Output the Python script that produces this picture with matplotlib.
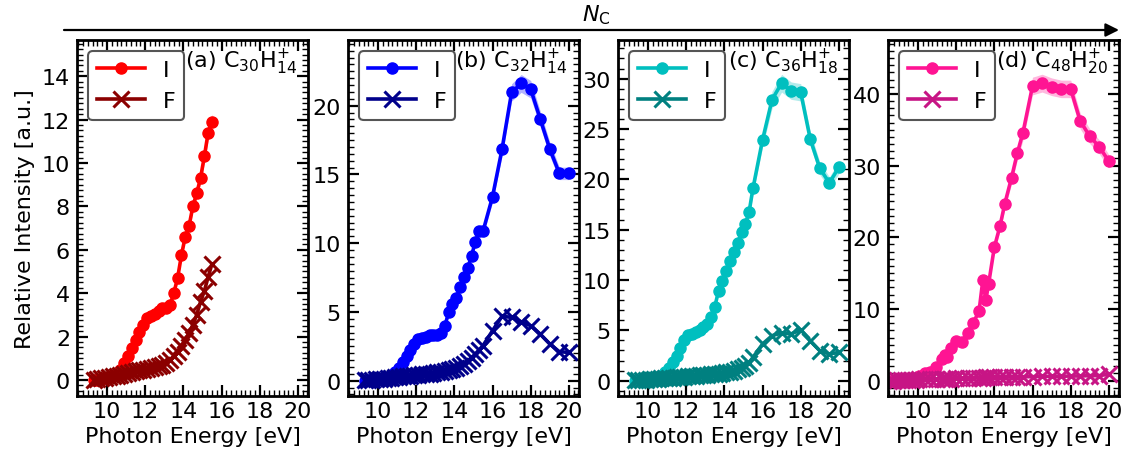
import numpy as np
import matplotlib.pyplot as plt
from matplotlib.ticker import MultipleLocator
plt.rcParams.update({'font.size': 16})

# photon energy grids [eV]
E_low = [9.3, 9.5, 9.7, 9.9, 10.1, 10.3, 10.5, 10.7, 10.9, 11.1, 11.3, 11.5,
         11.7, 11.9, 12.1, 12.3, 12.5, 12.7, 12.9, 13.1, 13.3, 13.5, 13.7, 13.9,
         14.1, 14.3, 14.5, 14.7, 14.9, 15.1, 15.3, 15.5]
E_high = [16.0, 16.5, 17.0, 17.5, 18.0, 18.5, 19.0, 19.5, 20.0]
E_d = [8.5, 8.7, 8.9, 9.1, 9.3, 9.5, 9.7, 9.9, 10.05, 10.35, 10.65, 10.95,
       11.25, 11.4, 11.5, 11.75, 12.0, 12.3, 12.6, 12.9, 13.2, 13.4, 13.55, 13.7,
       14.0, 14.3, 14.55, 14.9, 15.2, 15.5, 16.0, 16.5, 17.0, 17.5, 18.0, 18.5,
       19.0, 19.5, 20.0]

# (a) C30H14+
I_a = [0.0, 0.02, 0.05, 0.08, 0.12, 0.17, 0.25, 0.45, 0.8, 1.1, 1.45, 1.85,
       2.2, 2.55, 2.85, 2.95, 3.05, 3.2, 3.3, 3.3, 3.45, 4.0, 4.7, 5.75,
       6.6, 7.1, 8.0, 8.6, 9.3, 10.3, 11.4, 11.9]
F_a = [0.02, 0.05, 0.08, 0.1, 0.13, 0.16, 0.2, 0.24, 0.28, 0.32, 0.36, 0.4,
       0.44, 0.48, 0.52, 0.56, 0.6, 0.65, 0.7, 0.78, 0.93, 1.1, 1.3, 1.55,
       1.85, 2.15, 2.55, 3.0, 3.6, 4.1, 4.75, 5.35]

# (b) C32H14+
I_b = [0.0, 0.02, 0.04, 0.07, 0.1, 0.15, 0.22, 0.36, 0.65, 0.95, 1.33, 1.78,
       2.25, 2.7, 3.05, 3.1, 3.2, 3.3, 3.35, 3.35, 3.45, 3.95, 4.97, 5.58,
       6.0, 6.84, 7.52, 8.17, 9.09, 10.1, 10.91, 10.86,
       13.38, 16.85, 20.97, 21.62, 21.2, 19.03, 16.85, 15.08, 15.08]
F_b = [0.02, 0.05, 0.08, 0.1, 0.13, 0.16, 0.19, 0.22, 0.25, 0.28, 0.31, 0.34,
       0.37, 0.4, 0.43, 0.46, 0.49, 0.52, 0.56, 0.6, 0.65, 0.7, 0.76, 0.85,
       0.95, 1.08, 1.25, 1.45, 1.68, 1.95, 2.25, 2.55,
       3.64, 4.7, 4.6, 4.29, 4.0, 3.39, 2.67, 2.11, 2.06]

# (c) C36H18+
I_c = [0.0, 0.02, 0.05, 0.08, 0.12, 0.15, 0.3, 0.5, 0.85, 1.3, 1.82, 2.5,
       3.2, 4.0, 4.5, 4.65, 4.8, 5.0, 5.3, 5.6, 6.3, 7.35, 8.94, 9.93,
       10.93, 11.92, 12.75, 13.64, 14.74, 15.56, 16.79, 19.1,
       23.9, 27.91, 29.54, 28.8, 28.64, 24.0, 21.09, 19.64, 21.19]
F_c = [0.02, 0.05, 0.08, 0.1, 0.13, 0.16, 0.19, 0.22, 0.25, 0.28, 0.31, 0.34,
       0.37, 0.4, 0.43, 0.46, 0.49, 0.52, 0.55, 0.58, 0.62, 0.66, 0.7, 0.76,
       0.82, 0.9, 1.0, 1.12, 1.27, 1.5, 1.8, 2.32,
       3.64, 4.47, 4.74, 4.64, 5.07, 3.97, 2.98, 2.65, 2.81]

# (d) C48H20+
I_d = [0.0, 0.0, 0.05, 0.05, 0.1, 0.1, 0.15, 0.3, 0.65, 1.1, 1.25, 1.95,
       3.0, 3.6, 3.3, 4.5, 5.5, 5.45, 6.65, 8.1, 9.7, 14.1, 11.2, 13.5,
       18.6, 21.6, 24.7, 28.3, 31.7, 34.6, 41.1, 41.5, 41.0, 40.7, 40.7, 36.2,
       34.1, 32.6, 30.6]
F_d = [0.0, 0.0, 0.05, 0.05, 0.1, 0.1, 0.1, 0.15, 0.2, 0.2, 0.25, 0.25,
       0.3, 0.3, 0.3, 0.3, 0.35, 0.35, 0.35, 0.4, 0.4, 0.4, 0.45, 0.45,
       0.45, 0.5, 0.5, 0.5, 0.5, 0.55, 0.55, 0.6, 0.6, 0.6, 0.65, 0.65,
       0.7, 0.7, 0.9]

rel_err = 0.03  # relative width of the shaded band on I

panels = [
    ('(a) C$_{30}$H$_{14}^{+}$', E_low, I_a, F_a, '#ff0000', '#8b0000', (-0.74, 15.67), 2, 0.25),
    ('(b) C$_{32}$H$_{14}^{+}$', E_low + E_high, I_b, F_b, '#0000ff', '#00008b', (-1.11, 24.78), 5, 0.5),
    ('(c) C$_{36}$H$_{18}^{+}$', E_low + E_high, I_c, F_c, '#00bfbf', '#008080', (-1.52, 33.83), 5, 1),
    ('(d) C$_{48}$H$_{20}^{+}$', E_d, I_d, F_d, '#ff1493', '#c71585', (-2.14, 47.52), 10, 1),
]

W, H = 1125, 464
lefts = [77, 348, 618, 888]

fig = plt.figure(figsize=(W / 100, H / 100), dpi=100)

for k, (title, E, I, F, cI, cF, ylim, ymaj, ymin) in enumerate(panels):
    ax = fig.add_axes([lefts[k] / W, 67 / H, 231 / W, 356 / H])
    E = np.array(E)
    I = np.array(I)
    F = np.array(F)
    ax.fill_between(E, I * (1 - rel_err), I * (1 + rel_err), color=cI, alpha=0.3, lw=0)
    ax.plot(E, I, '-o', color=cI, lw=2.6, ms=8, label='I')
    ax.plot(E, F, '-x', color=cF, lw=2.6, ms=12, mew=2.2, label='F')

    ax.set_xlim(8.43, 20.53)
    ax.set_ylim(*ylim)
    ax.xaxis.set_major_locator(MultipleLocator(2))
    ax.xaxis.set_minor_locator(MultipleLocator(0.25))
    ax.yaxis.set_major_locator(MultipleLocator(ymaj))
    ax.yaxis.set_minor_locator(MultipleLocator(ymin))
    ax.tick_params(which='both', direction='in', top=True, right=True)
    ax.tick_params(which='major', length=8, width=1.6)
    ax.tick_params(which='minor', length=4, width=1)
    ax.tick_params(axis='y', pad=5)
    for s in ax.spines.values():
        s.set_linewidth(2)

    ax.set_xlabel('Photon Energy [eV]', labelpad=4)
    if k == 0:
        ax.set_ylabel('Relative Intensity [a.u.]', labelpad=5)

    leg = ax.legend(loc='upper left', numpoints=1, handlelength=2.15, fancybox=True,
                    framealpha=1, borderaxespad=0.5)
    leg.get_frame().set_edgecolor('#555555')
    leg.get_frame().set_linewidth(1.5)

    ax.text(0.952, 0.98, title, transform=ax.transAxes, ha='right', va='top')

# N_C arrow across the panels
fig.add_artist(plt.Annotation('', xy=(1119 / W, 1 - 31 / H), xytext=(64 / W, 1 - 31 / H),
                              xycoords='figure fraction', textcoords='figure fraction',
                              arrowprops=dict(arrowstyle='-|>', lw=1.6, color='k',
                                              mutation_scale=20, shrinkA=0, shrinkB=0)))
fig.text(596 / W, 1 - 15 / H, r'$N_\mathrm{C}$', ha='center', va='center', fontsize=16)

fig.savefig('out.png', dpi=100)
